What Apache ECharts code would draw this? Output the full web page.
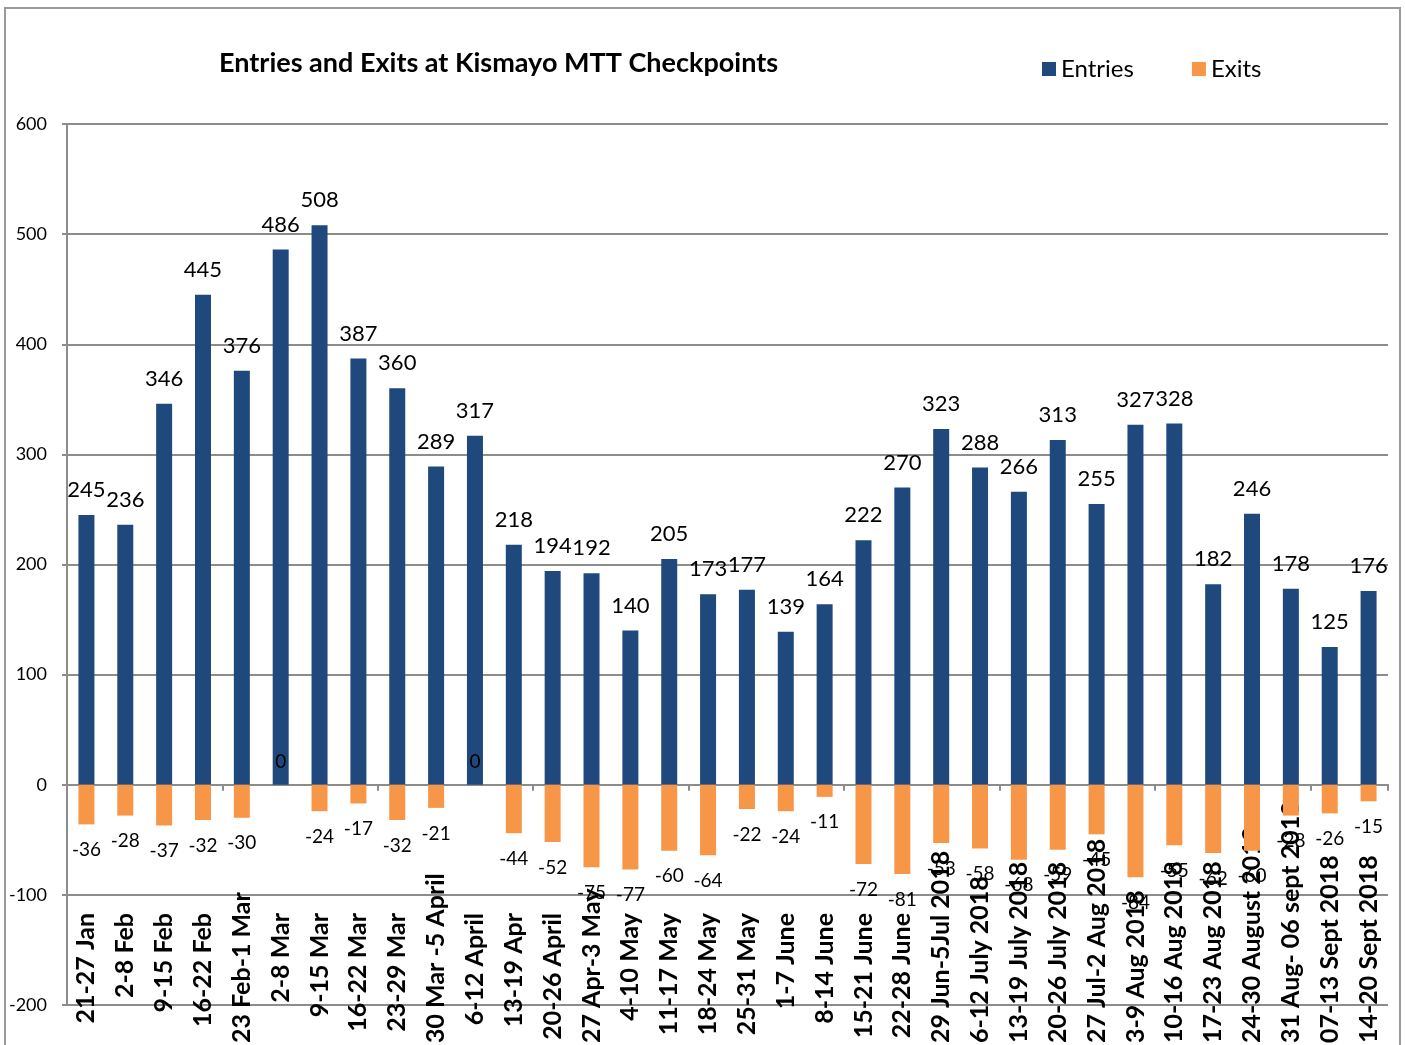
<!DOCTYPE html>
<html>
<head>
<meta charset="utf-8">
<title>Entries and Exits at Kismayo MTT Checkpoints</title>
<script src="https://cdn.jsdelivr.net/npm/echarts@6/dist/echarts.min.js"></script>
<style>
  html, body { margin: 0; padding: 0; background: #fff; }
  #chart { width: 1405px; height: 1045px; }
</style>
</head>
<body>
<div id="chart"></div>
<script>
// weekly periods (category axis)
const weeks = [
  "21-27 Jan", "2-8 Feb", "9-15 Feb", "16-22 Feb", "23 Feb-1 Mar", "2-8 Mar",
  "9-15 Mar", "16-22 Mar", "23-29 Mar", "30 Mar -5 April", "6-12 April",
  "13-19 Apr", "20-26 April", "27 Apr-3 May", "4-10 May", "11-17 May",
  "18-24 May", "25-31 May", "1-7 June", "8-14 June", "15-21 June", "22-28 June",
  "29 Jun-5Jul 2018", "6-12 July 2018", "13-19 July 2018", "20-26 July 2018",
  "27 Jul-2 Aug 2018", "3-9 Aug 2018", "10-16 Aug 2018", "17-23 Aug 2018",
  "24-30 August 2018", "31 Aug- 06 sept 2018", "07-13 Sept 2018", "14-20 Sept 2018"
];

const entries = [
  245, 236, 346, 445, 376, 486, 508, 387, 360, 289, 317, 218, 194, 192, 140, 205, 173,
  177, 139, 164, 222, 270, 323, 288, 266, 313, 255, 327, 328, 182, 246, 178, 125, 176
];

const exits = [
  -36, -28, -37, -32, -30, 0, -24, -17, -32, -21, 0, -44, -52, -75, -77, -60, -64,
  -22, -24, -11, -72, -81, -53, -58, -68, -59, -45, -84, -55, -62, -60, -28, -26, -15
];

// value axis ticks
const yMin = -200;
const yMax = 600;
const yStep = 100;

const FONT = "Lato, 'Open Sans', sans-serif";
const LONG = 11; // labels longer than this get pushed up from the bottom edge

const chart = echarts.init(document.getElementById("chart"));

// label-only category axis sitting on the bottom of the grid
const labelAxis = (margin, align, pick) => ({
  type: "category",
  data: weeks,
  position: "bottom",
  axisLine: { show: false, onZero: false },
  axisTick: { show: false },
  splitLine: { show: false },
  axisLabel: {
    interval: 0,
    rotate: 90,
    margin: margin,
    align: align,
    fontFamily: FONT,
    fontSize: 25,
    fontWeight: "bold",
    color: "#000",
    formatter: (v) => (pick(v) ? v : ""),
  },
});

const option = {
  backgroundColor: "#fff",
  animation: false,
  textStyle: { fontFamily: FONT, color: "#000" },
  title: {
    text: "Entries and Exits at Kismayo MTT Checkpoints",
    left: 214,
    top: 45,
    textStyle: { fontFamily: FONT, fontSize: 27, fontWeight: "bold", color: "#000" },
  },
  legend: {
    left: 1037,
    top: 52,
    itemWidth: 14,
    itemHeight: 14,
    itemGap: 58,
    icon: "rect",
    textStyle: { fontFamily: FONT, fontSize: 24, color: "#000" },
    data: ["Entries", "Exits"],
  },
  graphic: [
    {
      type: "rect",
      shape: { x: 5, y: 8, width: 1395, height: 1060 },
      style: { fill: "none", stroke: "#9a9a9a", lineWidth: 2 },
      silent: true,
    },
  ],
  grid: {
    left: 67,
    right: 17,
    top: 124,
    bottom: 40,
    containLabel: false,
    outerBoundsMode: "none",
  },
  xAxis: [
    {
      type: "category",
      data: weeks,
      axisLine: { onZero: true, lineStyle: { color: "#8c8c8c", width: 2 } },
      axisTick: { show: true, length: 6, lineStyle: { color: "#8c8c8c", width: 2 } },
      axisLabel: { show: false },
      splitLine: { show: false },
    },
    labelAxis(-92, "right", (v) => v.length <= LONG),
    labelAxis(38, "left", (v) => v.length > LONG),
  ],
  yAxis: {
    type: "value",
    min: yMin,
    max: yMax,
    interval: yStep,
    axisLine: { show: true, lineStyle: { color: "#8c8c8c", width: 2 } },
    axisTick: { show: true, length: 5, lineStyle: { color: "#8c8c8c", width: 2 } },
    axisLabel: { margin: 20, fontFamily: FONT, fontSize: 18, color: "#000" },
    splitLine: { show: true, lineStyle: { color: "#8c8c8c", width: 2 } },
  },
  series: [
    {
      name: "Entries",
      type: "bar",
      data: entries,
      barWidth: 16,
      barGap: "-100%",
      itemStyle: { color: "#1F497D" },
      label: {
        show: true,
        position: "top",
        distance: 14,
        fontFamily: FONT,
        fontSize: 22,
        color: "#000",
      },
    },
    {
      name: "Exits",
      type: "bar",
      data: exits.map((v) =>
        v === 0 ? { value: v, label: { position: "top", distance: 13 } } : v
      ),
      barWidth: 16,
      itemStyle: { color: "#F79646" },
      label: {
        show: true,
        position: "bottom",
        distance: 16,
        fontFamily: FONT,
        fontSize: 19,
        color: "#000",
      },
    },
  ],
};

chart.setOption(option);
</script>
</body>
</html>
